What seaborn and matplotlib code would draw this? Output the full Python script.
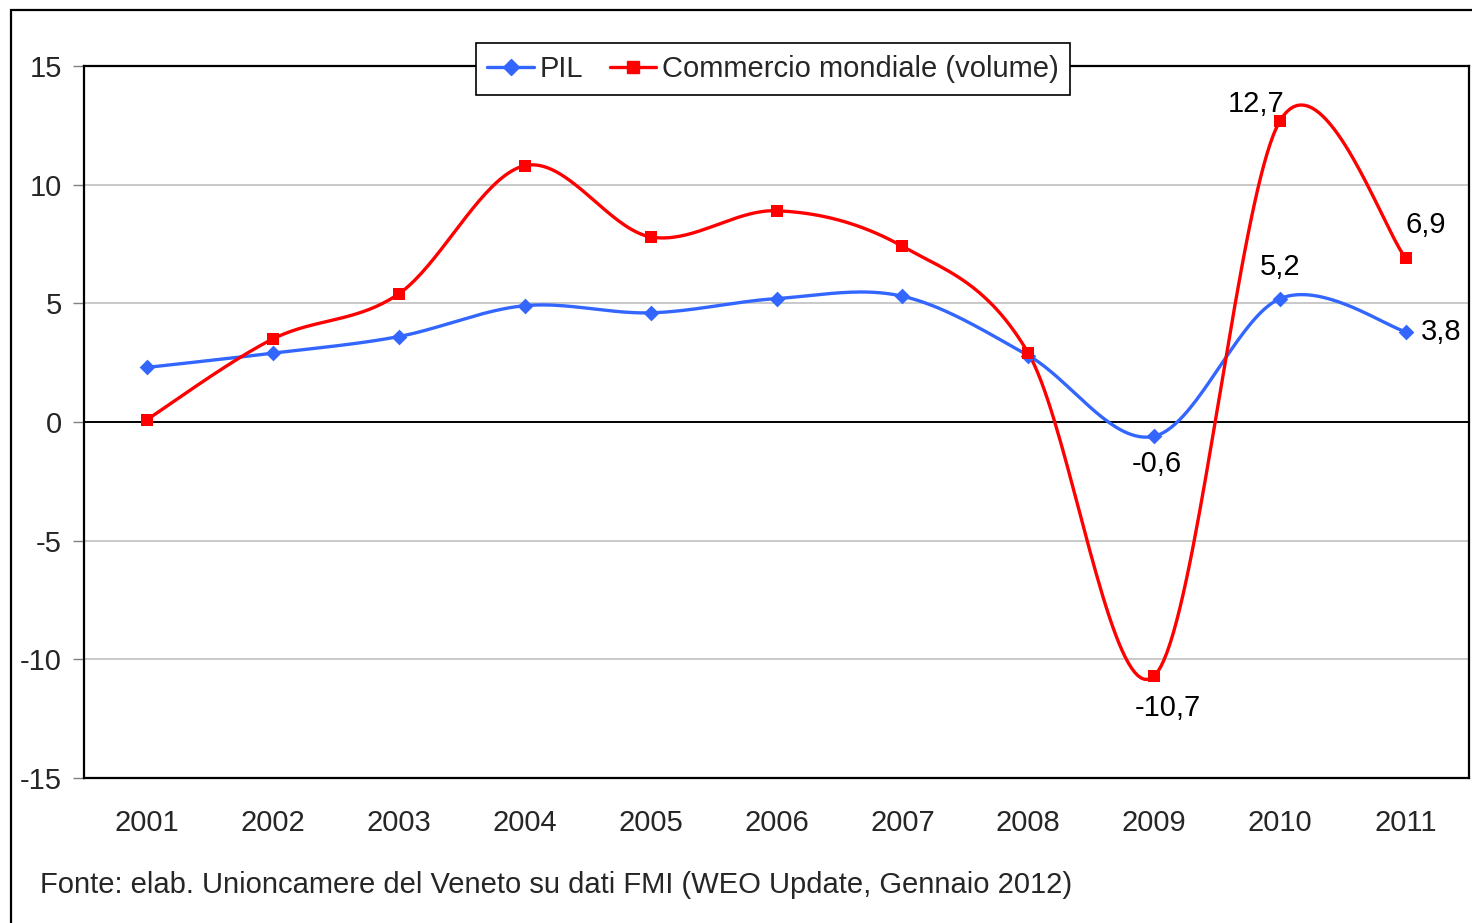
import matplotlib
matplotlib.use("Agg")
import matplotlib.pyplot as plt
import matplotlib.patches as mpatches
from matplotlib.lines import Line2D
import seaborn as sns
import pandas as pd
import numpy as np

years = ["2001", "2002", "2003", "2004", "2005", "2006", "2007", "2008", "2009", "2010", "2011"]
pil = [2.3, 2.9, 3.6, 4.9, 4.6, 5.2, 5.3, 2.8, -0.6, 5.2, 3.8]
commercio = [0.1, 3.5, 5.4, 10.8, 7.8, 8.9, 7.4, 2.9, -10.7, 12.7, 6.9]
y_ticks = [-15, -10, -5, 0, 5, 10, 15]

BLUE = "#3366FF"
RED = "#FF0000"
FS = 21


def smooth(xs, ys, steps=40):
    # Excel-style smoothed line: cubic Bezier with Catmull-Rom control points
    xs = np.asarray(xs, float)
    ys = np.asarray(ys, float)
    px = np.concatenate([[xs[0]], xs, [xs[-1]]])
    py = np.concatenate([[ys[0]], ys, [ys[-1]]])
    out_x, out_y = [], []
    t = np.linspace(0, 1, steps)
    for i in range(1, len(px) - 2):
        p0 = np.array([px[i], py[i]])
        p3 = np.array([px[i + 1], py[i + 1]])
        c1 = p0 + (p3 - np.array([px[i - 1], py[i - 1]])) / 6
        c2 = p3 - (np.array([px[i + 2], py[i + 2]]) - p0) / 6
        b = ((1 - t) ** 3)[:, None] * p0 + (3 * (1 - t) ** 2 * t)[:, None] * c1 \
            + (3 * (1 - t) * t ** 2)[:, None] * c2 + (t ** 3)[:, None] * p3
        out_x.extend(b[:, 0])
        out_y.extend(b[:, 1])
    return out_x, out_y


sns.set_style("white")
plt.rcParams["font.family"] = ["Liberation Sans", "DejaVu Sans"]

fig = plt.figure(figsize=(14.72, 9.23), dpi=100)
ax = fig.add_axes([84 / 1472, 1 - 778 / 923, (1469 - 84) / 1472, (778 - 66) / 923])

idx = np.arange(len(years))
for vals, col, mk, ms in [(pil, BLUE, "D", 8), (commercio, RED, "s", 8.5)]:
    sx, sy = smooth(idx, vals)
    sns.lineplot(x=sx, y=sy, ax=ax, color=col, linewidth=2.4, sort=False, zorder=3)
    sns.scatterplot(x=idx, y=vals, ax=ax, color=col, marker=mk, s=ms ** 2,
                    linewidth=0, zorder=4)

ax.set_xlim(-0.5, len(years) - 0.5)
ax.set_ylim(-15, 15)
ax.set_yticks(y_ticks)
ax.set_yticklabels([str(v) for v in y_ticks], fontsize=FS)
ax.set_xticks(idx)
ax.set_xticklabels(years, fontsize=FS)
ax.tick_params(axis="y", length=8, width=1, color="#808080", pad=8, left=True)
ax.tick_params(axis="x", length=0, pad=22)

for v in [-10, -5, 5, 10]:
    ax.axhline(v, color="#c0c0c0", linewidth=1.2, zorder=1)
ax.axhline(0, color="black", linewidth=1.4, zorder=2)

for s in ax.spines.values():
    s.set_color("black")
    s.set_linewidth(1.6)

# data labels
labels = [
    (8, pil[8], "-0,6", (2, -20), "center", "center"),
    (9, pil[9], "5,2", (0, 23), "center", "center"),
    (10, pil[10], "3,8", (11, 0), "left", "center"),
    (8, commercio[8], "-10,7", (10, -23), "center", "center"),
    (9, commercio[9], "12,7", (-17, 12), "center", "center"),
    (10, commercio[10], "6,9", (14, 24), "center", "center"),
]
for x, y, txt, off, ha, va in labels:
    ax.annotate(txt, (x, y), xytext=off, textcoords="offset points",
                ha=ha, va=va, fontsize=FS, color="black", zorder=5)

handles = [
    Line2D([], [], color=BLUE, linewidth=2.4, marker="D", markersize=8),
    Line2D([], [], color=RED, linewidth=2.4, marker="s", markersize=8.5),
]
leg = ax.legend(handles, ["PIL", "Commercio mondiale (volume)"], loc="center",
                bbox_to_anchor=(0.4975, 0.9958), ncol=2, fontsize=FS, frameon=True,
                fancybox=False, framealpha=1, edgecolor="black", handlelength=1.6,
                handletextpad=0.2, columnspacing=0.9, borderpad=0.4,
                borderaxespad=0)
leg.get_frame().set_linewidth(1.2)
leg.set_zorder(10)

fig.text(40 / 1472, 1 - 885 / 923, "Fonte: elab. Unioncamere del Veneto su dati FMI (WEO Update, Gennaio 2012)",
         fontsize=FS, ha="left", va="center")

border = mpatches.Rectangle((11 / 1472, -0.05), 1.2, 1 - 10 / 923 + 0.05, transform=fig.transFigure,
                            fill=False, edgecolor="black", linewidth=1.6)
fig.patches.append(border)

fig.savefig("out.png", dpi=100)
